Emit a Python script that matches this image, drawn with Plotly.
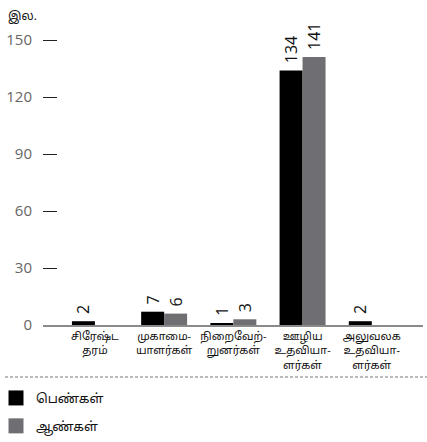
import plotly.graph_objects as go

categories = [
    "சிரேஷ்ட<br>தரம்",
    "முகாமை-<br>யாளர்கள்",
    "நிறைவேற்-<br>றுனர்கள்",
    "ஊழிய<br>உதவியா-<br>ளர்கள்",
    "அலுவலக<br>உதவியா-<br>ளர்கள்",
]
women = [2, 7, 1, 134, 2]
men = [0, 6, 3, 141, 0]
series_names = ["பெண்கள்", "ஆண்கள்"]
y_ticks = [0, 30, 60, 90, 120, 150]
unit_label = "இல."

BLACK = "#000000"
GREY = "#6e6e73"
FONT = "Open Sans, Noto Sans Tamil, Lohit Tamil, Noto Sans, sans-serif"

W, H = 427, 442
ML, MR, MT, MB = 43, 4, 21, 117
PW = W - ML - MR
PH = H - MT - MB

def px_x(x):
    return (x - ML) / PW

def px_y(y):
    return (H - MB - y) / PH

fig = go.Figure()
for i, (name, vals, col) in enumerate([(series_names[0], women, BLACK), (series_names[1], men, GREY)]):
    fig.add_trace(go.Bar(
        x=list(range(len(categories))), y=vals, name=name,
        marker=dict(color=col, line=dict(width=0)),
        text=["\u00a0" + str(v) if v else "" for v in vals],
        textposition="outside", textangle=-90, constraintext="none",
        textfont=dict(size=16, color="#111", family=FONT),
        cliponaxis=False, showlegend=False, hoverinfo="skip",
    ))
    fig.add_trace(go.Scatter(
        x=[None], y=[None], mode="markers", name=name,
        legendgroup="g%d" % i,
        marker=dict(symbol="square", size=15, color=col),
        showlegend=True,
    ))

fig.update_layout(
    width=W, height=H,
    margin=dict(l=ML, r=MR, t=MT, b=MB, autoexpand=False),
    paper_bgcolor="white", plot_bgcolor="white",
    barmode="group", bargap=0.336, bargroupgap=0,
    font=dict(family=FONT, color="#111"),
    legend=dict(
        x=px_x(-4), y=px_y(383), xanchor="left", yanchor="top",
        font=dict(size=13, color="#111"), itemsizing="trace",
        itemwidth=30,
        tracegroupgap=8, bgcolor="rgba(0,0,0,0)",
    ),
    xaxis=dict(
        range=[-0.75, 4.74],
        tickvals=list(range(len(categories))), ticktext=categories,
        tickfont=dict(size=11, color="#111"), tickangle=0,
        showgrid=False, zeroline=False,
        showline=True, linecolor="#8a8a8a", linewidth=1.5,
        ticks="", ticklabelstandoff=0,
    ),
    yaxis=dict(
        range=[0, 160], tickvals=y_ticks,
        showgrid=False, zeroline=False, showline=False,
        ticks="inside", ticklen=14, tickwidth=1, tickcolor="#222",
        tickfont=dict(size=15, color="#666"),
        ticklabelstandoff=10,
    ),
    showlegend=True,
)

fig.add_shape(
    type="line", xref="paper", yref="paper",
    x0=px_x(5), x1=px_x(427), y0=px_y(377), y1=px_y(377),
    line=dict(color="#777", width=1, dash="3px,2px"),
)
fig.add_annotation(
    text=unit_label, xref="paper", yref="paper",
    x=px_x(6), y=px_y(5), xanchor="left", yanchor="top",
    showarrow=False, font=dict(size=12, color="#111"),
)

fig.write_html("out.html", config={"displayModeBar": False},
               post_script="document.body.style.margin='0';")
